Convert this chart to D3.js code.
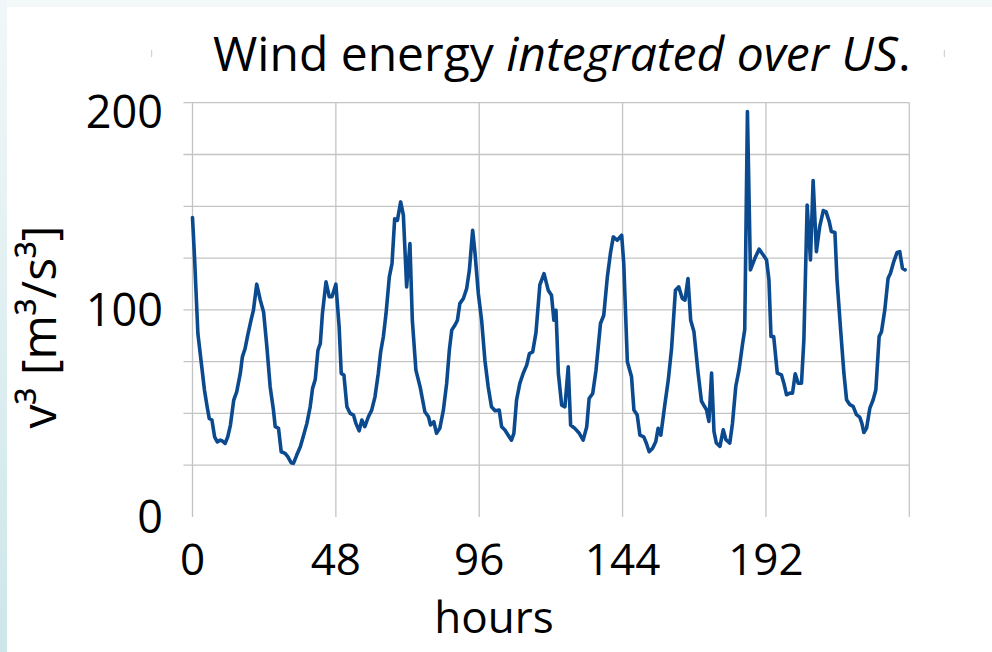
<!DOCTYPE html>
<html>
<head>
<meta charset="utf-8">
<script src="https://cdn.jsdelivr.net/npm/d3@7/dist/d3.min.js"></script>
<style>
  html, body { margin: 0; padding: 0; background: #ffffff; }
  svg { display: block; }
  text { font-family: "Open Sans", "Noto Sans", sans-serif; fill: #000; }
</style>
</head>
<body>
<svg id="chart" width="992" height="652"></svg>
<script>
// ---- data ----
const hours = [0,0.7,1.8,3.1,4,4.9,5.6,6.5,7.4,8.3,9.3,10,10.9,11.8,12.7,13.8,14.8,16,16.7,17.6,18.5,19.6,20.4,21.5,22.7,23.8,24.9,26,27.1,27.7,28.8,29.7,31,31.9,33,33.8,34.9,36.1,37.2,38.3,39.4,40.2,41.1,42,42.8,43.5,44.7,45.8,46.7,48,49.1,49.8,50.7,51.7,52.8,53.9,54.7,55.8,56.7,57.7,58.9,60,61.1,62.2,63,63.9,64.8,65.9,66.8,67.7,68.6,69.7,70.6,71.7,72.8,73.6,74.8,76.2,77.8,79,79.7,80.8,81.7,82.8,84,85.1,86,86.8,87.9,88.7,89.5,90.7,91.8,92.7,93.8,94.6,95.7,96.8,97.9,99,100.1,101.3,102.7,103.5,104.6,105.7,106.8,107.6,108.5,109.6,110.7,111.9,112.8,113.9,115,116.3,117.7,119.1,120.2,121,121.7,122.5,123.6,124.7,125.8,126.6,128,129.5,130.8,132,132.8,134,135.1,136.6,137.7,138.9,140,140.9,142.2,143.7,144.4,145.6,147,147.8,148.9,149.8,151.1,152,152.9,154,155.1,155.9,156.8,158.2,159.3,160.4,161.7,162.8,164,164.9,165.9,166.8,167.9,169.3,170.4,171.5,172.1,172.9,173.8,174.6,175.4,176.6,177.7,178.6,179.9,180.8,181.9,183,184.2,184.9,185.8,186.8,188.3,189.7,191.1,192.2,193,193.7,194.6,195.8,197.2,198,198.9,200,200.9,201.8,202.8,203.9,204.7,205.8,206.9,207.8,208.9,210,211.2,212.1,213.2,213.9,215.1,215.8,217,218.1,219,220.1,221.2,222.3,223.4,224.1,224.8,225.7,226.8,227.9,228.8,229.9,230.7,231.8,232.9,233.7,234.8,235.9,236.8,237.7,238.6];
const energy = [144.5,124.8,88.6,72.5,61.3,53.2,47.6,46.8,38.7,36.3,37.1,36.7,35.5,38.7,44.4,56.4,60.4,69.3,77.3,81.3,87.8,95,99.8,112.4,104.7,99,82.2,62.9,51.6,43.6,42.8,31.5,30.7,29.1,26.2,25.9,29.9,33.9,39.5,45.2,53.2,62.1,66.4,80.5,83.8,98.2,113.5,106.3,106.3,112.4,91.8,69.3,68.5,53.2,50,49.2,45.2,41.6,46.8,43.6,48.4,51.6,58,69.3,79.7,87,98.2,115.9,122.3,144,143.2,152.1,145.7,111.1,132,95,70.9,62.9,50.8,48.4,44.4,46,40.4,42.8,51.6,64.5,80.6,90.2,92.7,95,103,105.5,110.3,119.1,138.4,127.2,107.9,95,75.7,62.9,53.2,51.3,51.6,43.6,42,39.5,37.1,40.4,56.4,64.5,69.3,73.3,78.9,79.7,89,112,117.5,109.5,107.1,95,99.8,69.3,54,53.2,72.5,44.4,42.8,40.4,37.1,43.6,57.2,59.6,70.9,93.4,97.4,115.9,128,135.2,133.6,136,122.3,74.9,67.7,51.6,49.2,39.5,38.7,35.5,31.5,33.1,36.3,42.8,39.5,54.8,66.1,81.3,109.5,111.1,105.5,104.7,115.1,95,89.4,69.3,56,53.2,51.8,46.1,69.5,41.3,35.7,34.1,42.1,37.3,35.7,45.3,63,71.1,83.9,90.4,195.7,119.3,124.9,129.3,126.5,124.1,114.5,87.1,87.1,69.5,68.6,64.6,59,59.8,59.8,69.1,64.6,64.6,85.5,150.6,124.1,162.4,128.1,140.2,147.9,147.4,142.6,137.8,137.3,114.5,90.4,69.5,56.6,54.2,53.4,49.4,48.2,45.3,40.8,42.9,52.6,56.6,61.4,87.1,89.5,100,115.3,117.7,123.3,127.7,128.1,120.1,119.3];
const xTicks = [0, 48, 96, 144, 192];
const xGrid = [0, 48, 96, 144, 192, 240];
const yTicks = [0, 100, 200];
const yGrid = [25, 50, 75, 100, 125, 150, 175, 200];
const titleNormal = "Wind energy ";
const titleItalic = "integrated over US";
const titleEnd = ".";
const xTitle = "hours";
const yTitle = "v³ [m³/s³]";

// ---- layout ----
const svg = d3.select("#chart");
const W = 992, H = 652;
const plot = { left: 192.5, right: 909.3, top: 102.7, bottom: 517 };

const x = d3.scaleLinear().domain([0, 240]).range([plot.left, plot.right]);
const y = d3.scaleLinear().domain([0, 200]).range([plot.bottom, plot.top]);

// background frame (light cyan border at left and top)
const defs = svg.append("defs");
const lg = defs.append("linearGradient").attr("id", "leftband")
  .attr("x1", 0).attr("y1", 0).attr("x2", 0).attr("y2", 1);
lg.append("stop").attr("offset", "0%").attr("stop-color", "#f1f7f8");
lg.append("stop").attr("offset", "100%").attr("stop-color", "#cde6ea");
svg.append("rect").attr("x", 0).attr("y", 0).attr("width", W).attr("height", H).attr("fill", "#ffffff");
svg.append("rect").attr("x", 0).attr("y", 0).attr("width", W).attr("height", 7).attr("fill", "#f3f8f9");
svg.append("rect").attr("x", 0).attr("y", 0).attr("width", 7).attr("height", H).attr("fill", "url(#leftband)");

// tiny corner marks
[151.7, 944.3].forEach(px => {
  svg.append("line").attr("x1", px).attr("x2", px).attr("y1", 50).attr("y2", 57)
    .attr("stroke", "#c8c8c8").attr("stroke-width", 1);
});

// grid
const grid = svg.append("g");
grid.selectAll("line.h").data(yGrid).enter().append("line")
  .attr("x1", plot.left - 9).attr("x2", plot.right)
  .attr("y1", d => y(d)).attr("y2", d => y(d))
  .attr("stroke", "#c4c4c4").attr("stroke-width", 1.3);
grid.selectAll("line.v").data(xGrid).enter().append("line")
  .attr("x1", d => x(d)).attr("x2", d => x(d))
  .attr("y1", plot.top).attr("y2", plot.bottom)
  .attr("stroke", "#c4c4c4").attr("stroke-width", 1.3);

// line
const line = d3.line().x((d, i) => x(hours[i])).y(d => y(d)).curve(d3.curveLinear);
svg.append("path").datum(energy)
  .attr("fill", "none").attr("stroke", "#0b4a8f").attr("stroke-width", 3.6)
  .attr("stroke-linejoin", "round").attr("stroke-linecap", "round")
  .attr("d", line);

// tick labels
svg.selectAll("text.xt").data(xTicks).enter().append("text")
  .attr("x", d => x(d)).attr("y", 575)
  .attr("text-anchor", "middle").attr("font-size", 44)
  .text(d => d);
svg.selectAll("text.yt").data(yTicks).enter().append("text")
  .attr("x", 163).attr("y", d => y(d) + (d === 200 ? 25 : 16))
  .attr("text-anchor", "end").attr("font-size", 45)
  .text(d => d);

// axis titles
svg.append("text").attr("x", 494).attr("y", 632.5)
  .attr("text-anchor", "middle").attr("font-size", 44).text(xTitle);
svg.append("text").attr("transform", "translate(56,327) rotate(-90)")
  .attr("text-anchor", "middle").attr("font-size", 48).text(yTitle);

// title
const t = svg.append("text").attr("x", 213).attr("y", 70.7).attr("font-size", 48);
t.append("tspan").text(titleNormal);
t.append("tspan").attr("font-style", "italic").text(titleItalic);
t.append("tspan").text(titleEnd);
</script>
</body>
</html>
